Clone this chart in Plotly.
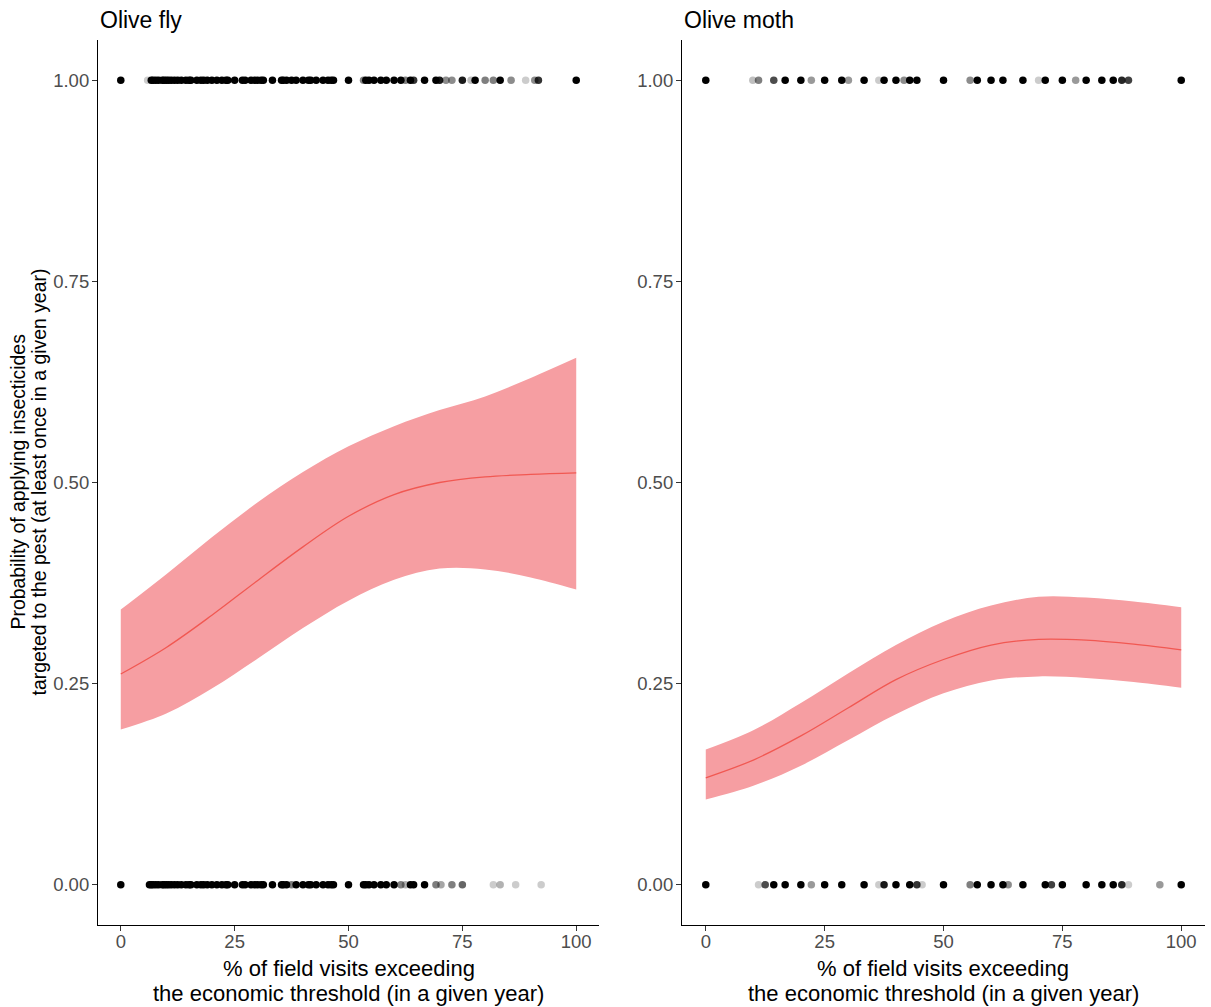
import plotly.graph_objects as go

# ---- Observed farms: % of visits above threshold, by outcome (1 = sprayed, 0 = not) ----
fly_x_yes = [0, 5.9, 6.7, 7.1, 7.7, 8.3, 9.1, 9.5, 10.0, 10.5, 11.1, 11.8, 12.5, 13.3, 14.3, 15.0,
             15.4, 16.7, 17.6, 18.2, 19.0, 20.0, 21.1, 22.2, 23.1, 23.5, 25.0, 26.7, 27.3, 28.6,
             29.4, 30.0, 30.8, 31.3, 33.3, 35.3, 35.7, 36.4, 37.5, 38.5, 40.0, 41.2, 41.7, 42.9,
             44.4, 45.5, 46.2, 46.7, 50.0, 53.3, 53.8, 54.5, 55.6, 57.1, 58.3, 60.0, 61.5, 62.5,
             63.6, 64.3, 66.7, 69.2, 70.0, 71.4, 72.7, 75.0, 76.9, 77.8, 80.0, 81.8, 83.3, 85.7,
             88.9, 90.9, 91.7, 100]
fly_a_yes = [1, 0.2] + [1] * 46 + [1, 0.5, 1, 1, 1, 1, 1, 1, 1, 0.5, 1, 0.8, 1, 1, 0.9, 0.45,
             0.45, 0.9, 0.25, 1, 0.5, 0.5, 1, 0.45, 0.2, 0.45, 0.8, 1]

fly_x_no = [0, 6.3, 6.7, 7.1, 7.7, 8.3, 9.1, 9.5, 10.0, 10.5, 11.1, 11.8, 12.5, 13.3, 14.3, 15.0,
            15.4, 16.7, 17.6, 18.2, 19.0, 20.0, 21.1, 22.2, 23.1, 23.5, 25.0, 26.7, 27.3, 28.6,
            29.4, 30.0, 30.8, 31.3, 33.3, 35.3, 35.7, 36.4, 37.5, 38.5, 40.0, 41.2, 41.7, 42.9,
            44.4, 45.5, 46.2, 46.7, 50.0, 53.3, 53.8, 54.5, 55.6, 57.1, 58.3, 60.0, 61.5, 62.5,
            63.6, 64.3, 66.7, 69.2, 70.3, 72.7, 75.0, 81.8, 83.3, 86.7, 92.3]
fly_a_no = [1] * 38 + [0.5] + [1] * 9 + [1, 1, 1, 1, 1, 1, 1, 1, 0.5, 0.3, 1, 1, 1, 0.5, 0.35,
            0.5, 0.6, 0.2, 0.3, 0.2, 0.2]

moth_x_yes = [0, 9.9, 11.1, 14.3, 16.7, 20.0, 22.2, 25.0, 28.6, 30.0, 33.3, 36.4, 37.5, 40.0,
              41.7, 42.9, 44.4, 50.0, 55.6, 57.1, 60.0, 62.5, 66.7, 70.0, 71.4, 75.0, 77.8, 80.0,
              83.3, 85.7, 87.5, 88.9, 100]
moth_a_yes = [1, 0.25, 0.5, 0.7, 1, 1, 0.4, 1, 1, 0.4, 1, 0.2, 1, 1, 0.45, 1, 1, 1, 0.45, 1, 1,
              1, 1, 0.2, 1, 1, 0.4, 1, 1, 1, 0.85, 0.75, 1]

moth_x_no = [0, 11.1, 12.5, 14.3, 16.7, 20.0, 22.2, 25.0, 28.6, 33.3, 36.4, 37.5, 40.0, 42.9,
             44.4, 45.5, 50.0, 55.6, 57.1, 60.0, 62.5, 63.6, 66.7, 71.4, 72.7, 75.0, 80.0, 83.3,
             85.7, 87.5, 88.9, 95.5, 100]
moth_a_no = [1, 0.2, 0.7, 1, 1, 1, 0.4, 1, 1, 1, 0.2, 0.9, 1, 1, 0.8, 0.2, 1, 0.5, 1, 1, 1,
             0.45, 1, 1, 0.75, 1, 1, 1, 1, 0.85, 0.2, 0.4, 1]

# ---- Fitted probability with confidence band ----
grid = [0, 10, 20, 30, 40, 50, 60, 70, 80, 90, 100]
fly_fit = [0.262, 0.295, 0.335, 0.378, 0.420, 0.458, 0.485, 0.500, 0.507, 0.510, 0.512]
fly_hi = [0.342, 0.386, 0.432, 0.475, 0.513, 0.545, 0.570, 0.590, 0.607, 0.630, 0.655]
fly_lo = [0.193, 0.213, 0.244, 0.281, 0.319, 0.353, 0.379, 0.393, 0.392, 0.382, 0.367]

moth_fit = [0.133, 0.155, 0.185, 0.220, 0.255, 0.280, 0.298, 0.305, 0.304, 0.299, 0.292]
moth_hi = [0.168, 0.192, 0.226, 0.263, 0.298, 0.327, 0.347, 0.358, 0.357, 0.352, 0.345]
moth_lo = [0.106, 0.123, 0.148, 0.180, 0.212, 0.238, 0.254, 0.259, 0.257, 0.252, 0.245]

panels = [
    ("Olive fly", fly_x_yes, fly_a_yes, fly_x_no, fly_a_no, fly_fit, fly_hi, fly_lo),
    ("Olive moth", moth_x_yes, moth_a_yes, moth_x_no, moth_a_no, moth_fit, moth_hi, moth_lo),
]

x_title_lines = ["% of field visits exceeding", "the economic threshold (in a given year)"]
y_title_lines = ["Probability of applying insecticides",
                 "targeted to the pest (at least once in a given year)"]

W, H = 1211, 1007
x_domains = [[98 / W, 599 / W], [682 / W, 1205 / W]]
y_domain = [(H - 925) / H, (H - 40) / H]

FONT = "Liberation Sans, Arial, sans-serif"
RIBBON = "rgb(246,158,162)"
LINE = "rgb(241,88,82)"

fig = go.Figure()

for i, (name, xy, ay, xn, an, fit, hi, lo) in enumerate(panels):
    xa = "x" if i == 0 else "x2"
    ya = "y" if i == 0 else "y2"
    fig.add_trace(go.Scatter(x=grid, y=lo, mode="lines", line=dict(width=0, shape="spline"),
                             xaxis=xa, yaxis=ya, hoverinfo="skip", showlegend=False))
    fig.add_trace(go.Scatter(x=grid, y=hi, mode="lines", line=dict(width=0, shape="spline"),
                             fill="tonexty", fillcolor=RIBBON,
                             xaxis=xa, yaxis=ya, hoverinfo="skip", showlegend=False))
    fig.add_trace(go.Scatter(x=grid, y=fit, mode="lines",
                             line=dict(color=LINE, width=1.3, shape="spline"),
                             xaxis=xa, yaxis=ya, showlegend=False))
    fig.add_trace(go.Scatter(x=xy, y=[1] * len(xy), mode="markers",
                             marker=dict(color="black", size=7.5, opacity=ay, line=dict(width=0)),
                             xaxis=xa, yaxis=ya, showlegend=False))
    fig.add_trace(go.Scatter(x=xn, y=[0] * len(xn), mode="markers",
                             marker=dict(color="black", size=7.5, opacity=an, line=dict(width=0)),
                             xaxis=xa, yaxis=ya, showlegend=False))

axis_common = dict(
    showgrid=False, zeroline=False, showline=True, linecolor="black", linewidth=1.2,
    ticks="outside", ticklen=5, tickwidth=1.1, tickcolor="#333333",
    tickfont=dict(family=FONT, size=18.5, color="#4D4D4D"), automargin=False,
)

for i in range(2):
    sfx = "" if i == 0 else "2"
    fig.update_layout(**{
        f"xaxis{sfx}": dict(axis_common, domain=x_domains[i], range=[-5, 105],
                            tickvals=[0, 25, 50, 75, 100], anchor=f"y{sfx}",
                            ticklabelstandoff=-5),
        f"yaxis{sfx}": dict(axis_common, domain=y_domain, range=[-0.05, 1.05],
                            tickvals=[0, 0.25, 0.5, 0.75, 1.0], tickformat=".2f",
                            anchor=f"x{sfx}", ticklabelstandoff=-1),
    })

annotations = []
for i, (name, *_rest) in enumerate(panels):
    x0, x1 = x_domains[i]
    annotations.append(dict(text=name, x=x0, y=(H - 20) / H, xref="paper", yref="paper",
                            xanchor="left", yanchor="middle", showarrow=False,
                            font=dict(family=FONT, size=23, color="black")))
    for line_text, y_px in zip(x_title_lines, [968, 993]):
        annotations.append(dict(text=line_text, x=(x0 + x1) / 2, y=(H - y_px) / H,
                                xref="paper", yref="paper", xanchor="center", yanchor="middle",
                                showarrow=False, font=dict(family=FONT, size=22, color="black")))

for line_text, x_px in zip(y_title_lines, [17, 38]):
    annotations.append(dict(text=line_text, x=x_px / W, y=(H - 482.5) / H,
                            xref="paper", yref="paper", xanchor="center", yanchor="middle",
                            textangle=-90, showarrow=False,
                            font=dict(family=FONT, size=19.4, color="black")))

fig.update_layout(
    width=W, height=H, margin=dict(l=0, r=0, t=0, b=0),
    paper_bgcolor="white", plot_bgcolor="white",
    annotations=annotations, showlegend=False,
)

fig.write_html("out.html")
